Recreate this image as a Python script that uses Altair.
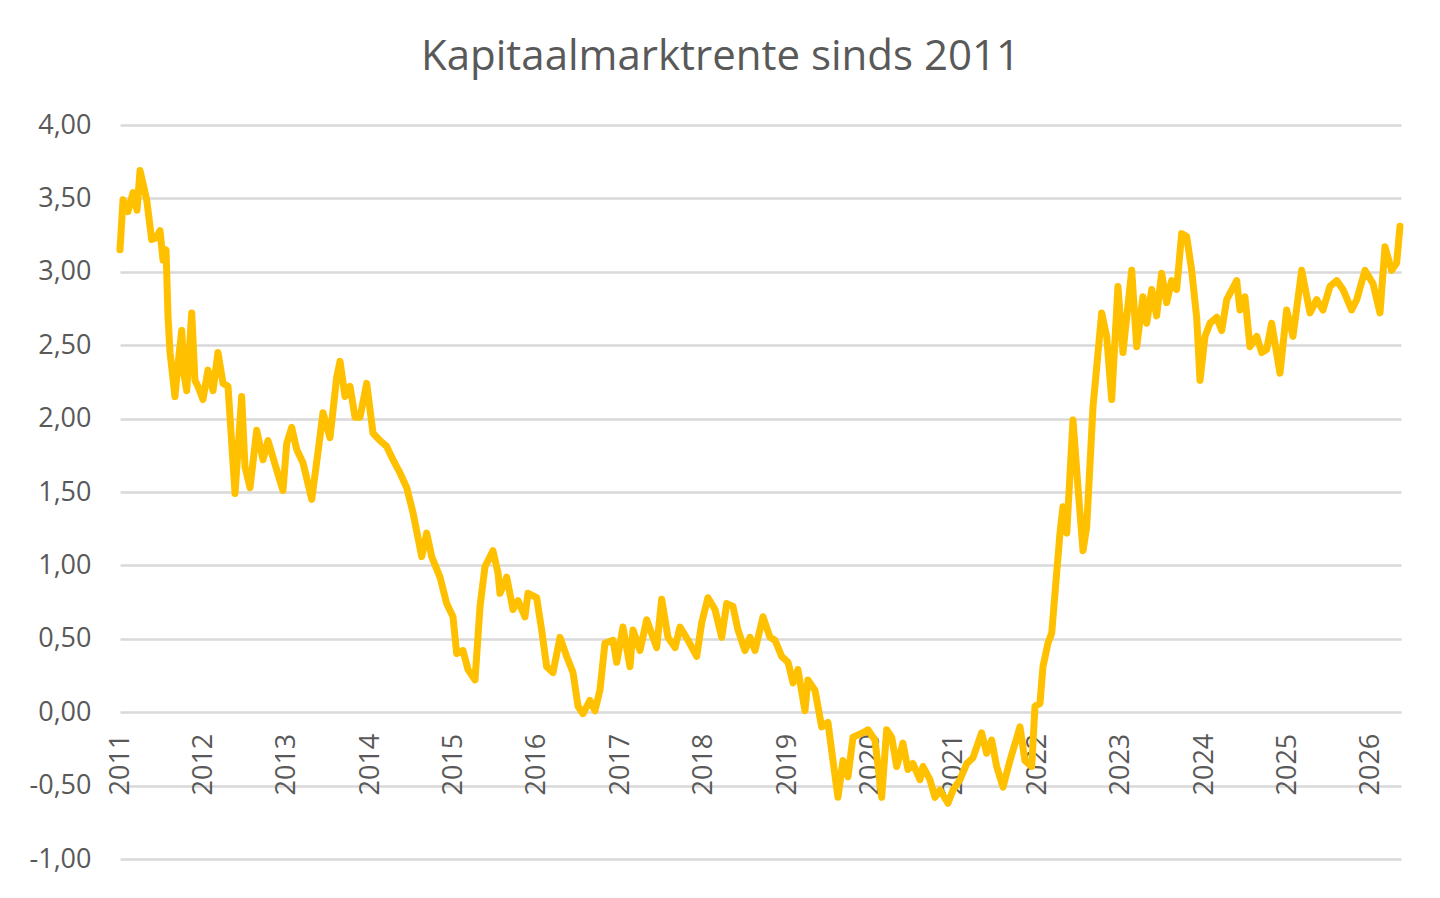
import altair as alt
import pandas as pd

# decimal year of each reading and the capital market rate (%)
years = [
    2011.000, 2011.036, 2011.096, 2011.156, 2011.204, 2011.240, 2011.320, 2011.380, 2011.432, 2011.480,
    2011.516, 2011.552, 2011.576, 2011.600, 2011.659, 2011.695, 2011.740, 2011.767, 2011.800, 2011.860,
    2011.899, 2011.935, 2011.995, 2012.055, 2012.115, 2012.175, 2012.235, 2012.295, 2012.379, 2012.459,
    2012.499, 2012.559, 2012.639, 2012.715, 2012.775, 2012.879, 2012.954, 2012.999, 2013.059, 2013.119,
    2013.194, 2013.299, 2013.374, 2013.434, 2013.518, 2013.598, 2013.638, 2013.698, 2013.758, 2013.818,
    2013.878, 2013.958, 2014.034, 2014.118, 2014.198, 2014.273, 2014.357, 2014.438, 2014.513, 2014.618,
    2014.678, 2014.737, 2014.837, 2014.917, 2014.993, 2015.037, 2015.113, 2015.173, 2015.257, 2015.317,
    2015.376, 2015.472, 2015.532, 2015.556, 2015.637, 2015.712, 2015.772, 2015.856, 2015.892, 2015.996,
    2016.056, 2016.116, 2016.192, 2016.276, 2016.356, 2016.432, 2016.492, 2016.552, 2016.635, 2016.695,
    2016.755, 2016.815, 2016.911, 2016.956, 2017.031, 2017.115, 2017.151, 2017.235, 2017.315, 2017.435,
    2017.495, 2017.571, 2017.655, 2017.715, 2017.811, 2017.915, 2017.975, 2018.050, 2018.134, 2018.215,
    2018.275, 2018.350, 2018.410, 2018.494, 2018.554, 2018.614, 2018.710, 2018.794, 2018.854, 2018.934,
    2019.010, 2019.070, 2019.129, 2019.213, 2019.249, 2019.333, 2019.414, 2019.489, 2019.549, 2019.609,
    2019.669, 2019.729, 2019.789, 2019.909, 2019.969, 2020.029, 2020.053, 2020.133, 2020.193, 2020.253,
    2020.313, 2020.388, 2020.448, 2020.508, 2020.592, 2020.628, 2020.712, 2020.772, 2020.832, 2020.928,
    2020.988, 2021.072, 2021.153, 2021.228, 2021.332, 2021.392, 2021.452, 2021.512, 2021.588, 2021.671,
    2021.791, 2021.851, 2021.932, 2021.971, 2022.031, 2022.067, 2022.127, 2022.172, 2022.211, 2022.271,
    2022.307, 2022.352, 2022.427, 2022.487, 2022.547, 2022.591, 2022.667, 2022.771, 2022.831, 2022.891,
    2022.966, 2023.026, 2023.131, 2023.191, 2023.266, 2023.311, 2023.371, 2023.430, 2023.490, 2023.550,
    2023.610, 2023.670, 2023.730, 2023.790, 2023.850, 2023.910, 2023.950, 2024.010, 2024.070, 2024.150,
    2024.210, 2024.270, 2024.390, 2024.429, 2024.489, 2024.549, 2024.630, 2024.690, 2024.749, 2024.809,
    2024.909, 2024.989, 2025.065, 2025.169, 2025.269, 2025.349, 2025.424, 2025.508, 2025.589, 2025.664,
    2025.768, 2025.829, 2025.928, 2026.024, 2026.108, 2026.168, 2026.248, 2026.308, 2026.348,
]
rates = [
    3.15, 3.49, 3.41, 3.54, 3.42, 3.69, 3.49, 3.22, 3.23, 3.28,
    3.08, 3.15, 2.69, 2.45, 2.15, 2.37, 2.60, 2.30, 2.19, 2.72,
    2.26, 2.22, 2.13, 2.33, 2.19, 2.45, 2.24, 2.22, 1.49, 2.15,
    1.67, 1.53, 1.92, 1.72, 1.85, 1.65, 1.51, 1.83, 1.94, 1.79,
    1.70, 1.45, 1.77, 2.04, 1.87, 2.28, 2.39, 2.15, 2.22, 2.01,
    2.01, 2.24, 1.90, 1.85, 1.81, 1.72, 1.63, 1.53, 1.36, 1.06,
    1.22, 1.06, 0.92, 0.74, 0.65, 0.40, 0.42, 0.29, 0.22, 0.72,
    0.99, 1.10, 0.95, 0.81, 0.92, 0.70, 0.76, 0.65, 0.81, 0.78,
    0.56, 0.31, 0.27, 0.51, 0.38, 0.27, 0.04, -0.01, 0.08, 0.01,
    0.15, 0.47, 0.49, 0.34, 0.58, 0.31, 0.56, 0.42, 0.63, 0.44,
    0.77, 0.51, 0.44, 0.58, 0.49, 0.38, 0.61, 0.78, 0.70, 0.51,
    0.74, 0.72, 0.56, 0.42, 0.51, 0.42, 0.65, 0.51, 0.49, 0.38,
    0.34, 0.20, 0.29, 0.01, 0.22, 0.15, -0.10, -0.07, -0.33, -0.58,
    -0.33, -0.44, -0.17, -0.14, -0.12, -0.17, -0.19, -0.58, -0.12, -0.17,
    -0.37, -0.21, -0.39, -0.35, -0.46, -0.37, -0.46, -0.58, -0.53, -0.62,
    -0.53, -0.46, -0.35, -0.31, -0.14, -0.28, -0.19, -0.37, -0.51, -0.33,
    -0.10, -0.33, -0.37, 0.04, 0.06, 0.31, 0.47, 0.54, 0.81, 1.22,
    1.40, 1.22, 1.99, 1.53, 1.10, 1.26, 2.08, 2.72, 2.56, 2.13,
    2.90, 2.45, 3.01, 2.49, 2.83, 2.65, 2.88, 2.70, 2.99, 2.79,
    2.94, 2.88, 3.26, 3.24, 3.01, 2.69, 2.26, 2.56, 2.65, 2.69,
    2.60, 2.81, 2.94, 2.74, 2.83, 2.49, 2.56, 2.45, 2.47, 2.65,
    2.31, 2.74, 2.56, 3.01, 2.72, 2.81, 2.74, 2.90, 2.94, 2.88,
    2.74, 2.81, 3.01, 2.92, 2.72, 3.17, 3.01, 3.06, 3.31,
]

year_ticks = list(range(2011, 2027))
rate_ticks = [-1.0, -0.5, 0.0, 0.5, 1.0, 1.5, 2.0, 2.5, 3.0, 3.5, 4.0]

df = pd.DataFrame({"jaar": years, "rente": rates})

W, H = 1281, 734
gray_text = "#595959"
font = "Open Sans"

line = alt.Chart(df).mark_line(
    color="#FFC000", strokeWidth=7, strokeJoin="round", strokeCap="round"
).encode(
    x=alt.X(
        "jaar:Q",
        scale=alt.Scale(domain=[2011, 2026.36], nice=False, zero=False),
        axis=alt.Axis(
            values=year_ticks,
            labelExpr="format(datum.value, 'd')",
            labelAngle=-90,
            labelAlign="right",
            labelBaseline="middle",
            labelPadding=21,
            labelFontSize=27,
            labelColor=gray_text,
            labelFont=font,
            labelOverlap=False,
            labelFlush=False,
            grid=False,
            domain=False,
            ticks=False,
            title=None,
            offset=-H / 5,
        ),
    ),
    y=alt.Y(
        "rente:Q",
        scale=alt.Scale(domain=[-1, 4], nice=False, zero=False),
        axis=alt.Axis(
            values=rate_ticks,
            labelExpr="replace(replace(format(datum.value, '.2f'), '.', ','), '\u2212', '-')",
            labelPadding=29,
            labelFontSize=27,
            labelColor=gray_text,
            labelFont=font,
            grid=True,
            gridColor="#d9d9d9",
            gridWidth=2.5,
            domain=False,
            ticks=False,
            title=None,
        ),
    ),
)

chart = line.properties(
    width=W,
    height=H,
    background="white",
    title=alt.TitleParams(
        "Kapitaalmarktrente sinds 2011",
        fontSize=42,
        font=font,
        fontWeight="normal",
        color=gray_text,
        anchor="middle",
        frame="group",
        dx=-40,
        offset=32,
    ),
    autosize=alt.AutoSizeParams(type="none"),
    padding={"left": 112, "top": 117, "right": 30, "bottom": 30},
).configure_view(strokeWidth=0, stroke="transparent")

chart.save("out.html", embed_options={"renderer": "svg", "actions": False})
